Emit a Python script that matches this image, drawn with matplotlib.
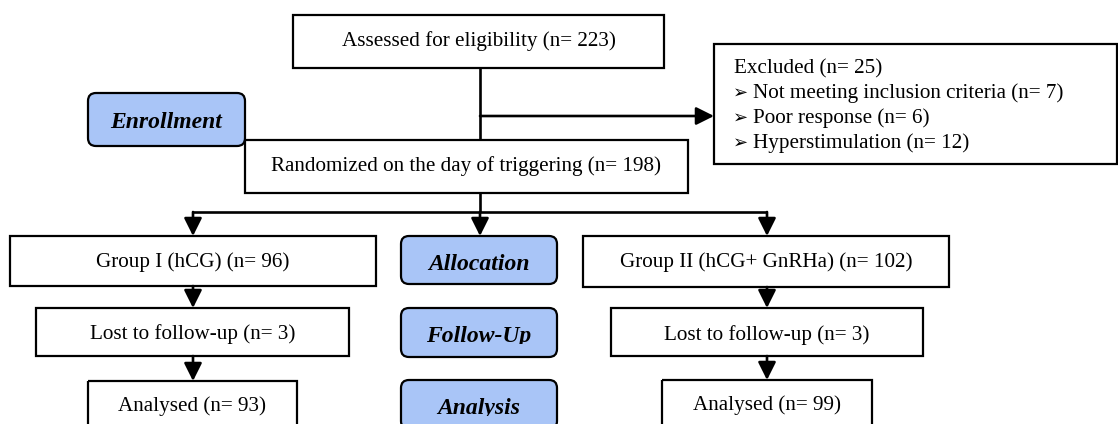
import matplotlib
matplotlib.use('Agg')
from matplotlib import pyplot as plt
from matplotlib.patches import Rectangle, FancyBboxPatch

# Flow counts
assessed_n = 223
excluded_n = 25
excluded_reasons = ['Not meeting inclusion criteria', 'Poor response', 'Hyperstimulation']
excluded_counts = [7, 6, 12]
randomized_n = 198
group_names = ['Group I (hCG)', 'Group II (hCG+ GnRHa)']
allocated_n = [96, 102]
lost_n = [3, 3]
analysed_n = [93, 99]
stage_labels = ['Enrollment', 'Allocation', 'Follow-Up', 'Analysis']

serif = ['Liberation Serif', 'DejaVu Serif']
fs = 15.2
lw = 1.6
blue = '#a9c5f7'

fig = plt.figure(figsize=(11.18, 4.24), dpi=100)
ax = fig.add_axes([0, 0, 1, 1])
ax.set_xlim(0, 1118)
ax.set_ylim(424, 0)
ax.axis('off')


def box(x0, x1, y0, y1):
    ax.add_patch(Rectangle((x0, y0), x1 - x0, y1 - y0, fill=False,
                           edgecolor='black', lw=lw, zorder=2))


def label(text, x0, x1, y0, y1, baseline):
    ax.add_patch(FancyBboxPatch((x0, y0), x1 - x0, y1 - y0,
                                boxstyle='round,pad=0,rounding_size=8',
                                facecolor=blue, edgecolor='black', lw=lw, zorder=2))
    t = ax.text((x0 + x1) / 2, baseline, text, ha='center', va='baseline',
                fontsize=17, fontweight='bold', fontstyle='italic', family=serif, zorder=3)
    # text frame cuts off the descenders, as in the source
    clip = Rectangle((x0, y0), x1 - x0, baseline + 2 - y0, transform=ax.transData)
    t.set_clip_path(clip)
    t.set_clip_on(True)


def line(xs, ys):
    ax.plot(xs, ys, color='black', lw=1.9, solid_capstyle='butt', zorder=1)


def arrow(x0, y0, x1, y1):
    ax.annotate('', xy=(x1, y1), xytext=(x0, y0),
                arrowprops=dict(arrowstyle='-|>,head_length=0.6,head_width=0.3',
                                mutation_scale=18, lw=1.9, color='black',
                                shrinkA=0, shrinkB=0), zorder=1)


# Top boxes
box(293, 664, 15, 68)
ax.text(479, 46, 'Assessed for eligibility (n= %d)' % assessed_n, ha='center',
        va='baseline', fontsize=fs, family=serif)

box(245, 688, 140, 193)
ax.text(466, 171, 'Randomized on the day of triggering (n= %d)' % randomized_n,
        ha='center', va='baseline', fontsize=fs, family=serif)

box(714, 1117, 44, 164)
ax.text(734, 73, 'Excluded (n= %d)' % excluded_n, ha='left', va='baseline',
        fontsize=fs, family=serif)
for i, (reason, n) in enumerate(zip(excluded_reasons, excluded_counts)):
    yb = 98 + 25 * i
    ax.text(733, yb, '\u27a2', ha='left', va='baseline', fontsize=13,
            family=['DejaVu Sans'])
    ax.text(753, yb, '%s (n= %d)' % (reason, n), ha='left', va='baseline',
            fontsize=fs, family=serif)

# Connectors at the top
line([480, 480], [68, 140])
arrow(480, 116, 714, 116)
line([480, 480], [193, 212])
line([193, 767], [212, 212])
for xc in [193, 480, 767]:
    arrow(xc, 212, xc, 236)

# Group columns
cols = [
    dict(x=193, alloc=(10, 376, 236, 286), lost=(36, 349, 308, 356), anal=(88, 297, 381, 432),
         base=(267, 339, 411)),
    dict(x=767, alloc=(583, 949, 236, 287), lost=(611, 923, 308, 356), anal=(662, 872, 380, 432),
         base=(267, 340, 410)),
]
for i, c in enumerate(cols):
    texts = ['%s (n= %d)' % (group_names[i], allocated_n[i]),
             'Lost to follow-up (n= %d)' % lost_n[i],
             'Analysed (n= %d)' % analysed_n[i]]
    rects = [c['alloc'], c['lost'], c['anal']]
    for r, t, b in zip(rects, texts, c['base']):
        box(*r)
        ax.text((r[0] + r[1]) / 2, b, t, ha='center', va='baseline', fontsize=fs, family=serif)
    arrow(c['x'], c['alloc'][3], c['x'], c['lost'][2])
    arrow(c['x'], c['lost'][3], c['x'], c['anal'][2])

# Stage labels
label(stage_labels[0], 88, 245, 93, 146, 128)
label(stage_labels[1], 401, 557, 236, 284, 270)
label(stage_labels[2], 401, 557, 308, 357, 342)
label(stage_labels[3], 401, 557, 380, 429, 414)

fig.savefig('out.png', dpi=100)
